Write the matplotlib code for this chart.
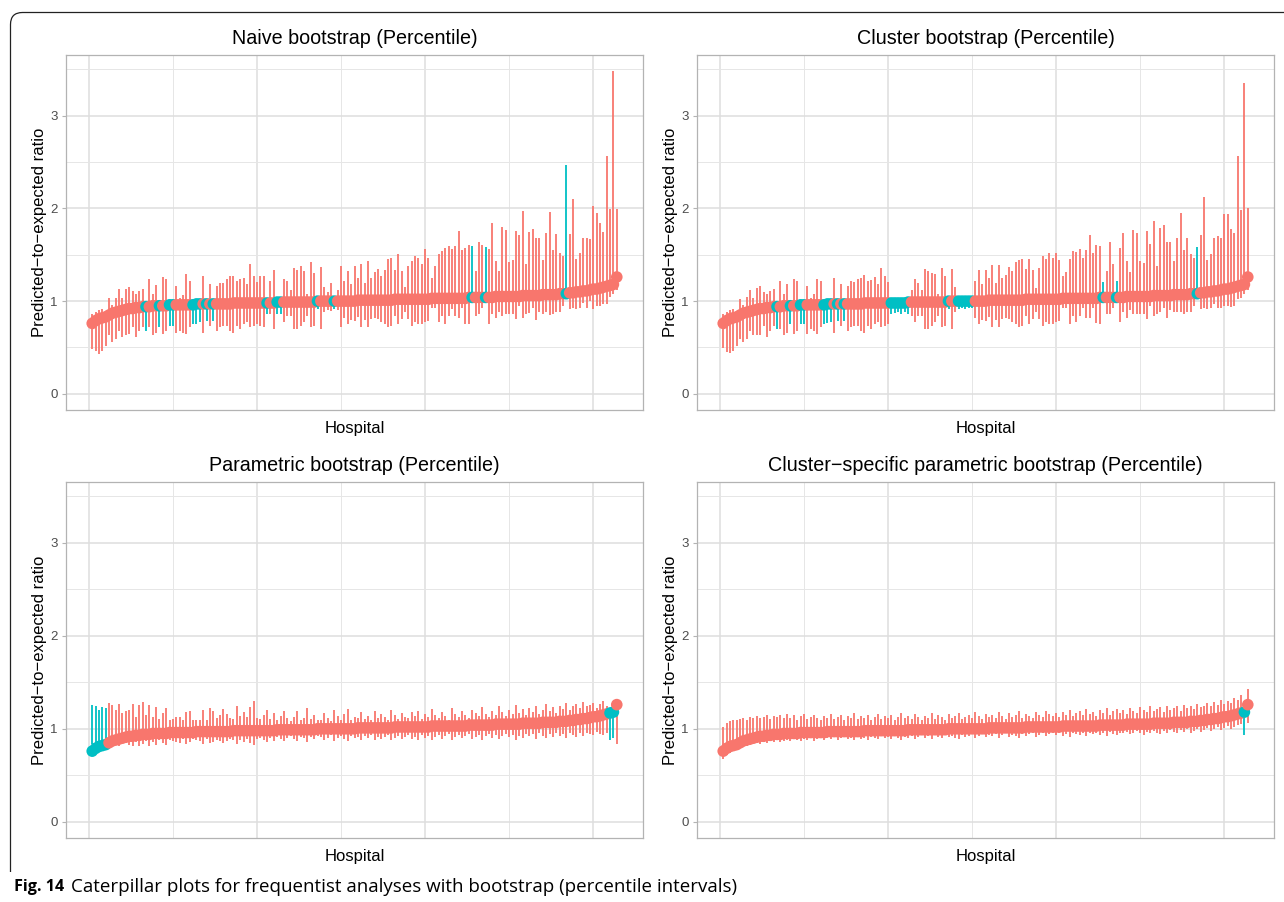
import matplotlib
matplotlib.use("Agg")
import matplotlib.pyplot as plt
from matplotlib.path import Path
from matplotlib.patches import PathPatch

# ---------------- data ----------------
estimate = [
    0.76, 0.79, 0.81, 0.82, 0.83, 0.85, 0.87, 0.88, 0.89, 0.90,
    0.91, 0.92, 0.92, 0.93, 0.93, 0.94, 0.94, 0.94, 0.95, 0.95,
    0.95, 0.95, 0.95, 0.96, 0.96, 0.96, 0.96, 0.96, 0.96, 0.96,
    0.96, 0.97, 0.97, 0.97, 0.97, 0.97, 0.97, 0.97, 0.97, 0.97,
    0.97, 0.97, 0.98, 0.98, 0.98, 0.98, 0.98, 0.98, 0.98, 0.98,
    0.98, 0.98, 0.98, 0.98, 0.98, 0.99, 0.99, 0.99, 0.99, 0.99,
    0.99, 0.99, 0.99, 0.99, 0.99, 0.99, 0.99, 1.00, 1.00, 1.00,
    1.00, 1.00, 1.00, 1.00, 1.00, 1.00, 1.00, 1.00, 1.00, 1.01,
    1.01, 1.01, 1.01, 1.01, 1.01, 1.01, 1.01, 1.01, 1.01, 1.01,
    1.02, 1.02, 1.02, 1.02, 1.02, 1.02, 1.02, 1.02, 1.02, 1.02,
    1.02, 1.03, 1.03, 1.03, 1.03, 1.03, 1.03, 1.03, 1.03, 1.03,
    1.03, 1.03, 1.04, 1.04, 1.04, 1.04, 1.04, 1.04, 1.04, 1.04,
    1.05, 1.05, 1.05, 1.05, 1.05, 1.05, 1.05, 1.05, 1.06, 1.06,
    1.06, 1.06, 1.06, 1.06, 1.07, 1.07, 1.07, 1.07, 1.07, 1.08,
    1.08, 1.08, 1.09, 1.09, 1.10, 1.10, 1.11, 1.11, 1.12, 1.13,
    1.13, 1.14, 1.15, 1.16, 1.17, 1.18, 1.26]

naive_lower = [
    0.48, 0.46, 0.43, 0.46, 0.52, 0.63, 0.56, 0.59, 0.68, 0.61,
    0.63, 0.65, 0.72, 0.61, 0.68, 0.72, 0.68, 0.72, 0.63, 0.66,
    0.72, 0.65, 0.68, 0.73, 0.73, 0.66, 0.68, 0.66, 0.65, 0.72,
    0.75, 0.75, 0.77, 0.66, 0.79, 0.73, 0.79, 0.68, 0.72, 0.73,
    0.73, 0.68, 0.66, 0.73, 0.70, 0.75, 0.77, 0.72, 0.73, 0.75,
    0.73, 0.72, 0.86, 0.86, 0.70, 0.86, 0.86, 0.77, 0.84, 0.84,
    0.70, 0.70, 0.73, 0.77, 0.84, 0.72, 0.73, 0.91, 0.70, 0.88,
    0.90, 0.89, 0.92, 0.90, 0.72, 0.82, 0.75, 0.80, 0.79, 0.83,
    0.72, 0.80, 0.72, 0.81, 0.82, 0.81, 0.77, 0.75, 0.72, 0.73,
    0.84, 0.75, 0.81, 0.88, 0.81, 0.73, 0.77, 0.75, 0.75, 0.77,
    0.79, 0.93, 0.93, 0.77, 0.84, 0.75, 0.84, 0.91, 0.84, 0.82,
    0.93, 0.75, 0.75, 0.98, 0.84, 0.86, 0.93, 0.98, 0.75, 0.86,
    0.82, 0.88, 0.84, 0.86, 0.86, 0.86, 0.81, 0.95, 0.82, 0.86,
    0.87, 0.93, 0.80, 0.88, 0.86, 0.88, 0.85, 0.86, 0.88, 0.88,
    0.95, 1.03, 0.91, 0.93, 0.91, 0.93, 0.98, 0.93, 1.00, 0.92,
    0.95, 0.95, 0.97, 0.97, 1.04, 1.08, 1.12]
naive_upper = [
    0.86, 0.88, 0.90, 0.92, 0.88, 1.03, 0.96, 1.03, 1.13, 1.03,
    1.13, 1.15, 1.11, 1.08, 1.11, 1.13, 0.93, 1.24, 1.08, 1.17,
    0.94, 1.26, 1.24, 0.95, 0.95, 1.16, 1.03, 1.07, 1.29, 1.22,
    0.95, 0.96, 0.96, 1.27, 0.96, 1.19, 0.96, 1.16, 1.20, 1.20,
    1.24, 1.27, 1.27, 1.22, 1.24, 1.25, 1.18, 1.40, 1.27, 1.21,
    1.27, 1.27, 0.97, 1.22, 1.34, 0.97, 0.98, 1.24, 1.22, 1.12,
    1.36, 1.34, 1.38, 1.32, 1.08, 1.42, 1.30, 0.98, 1.37, 1.15,
    1.10, 1.20, 0.99, 1.12, 1.38, 1.22, 1.33, 1.18, 1.38, 1.25,
    1.40, 1.20, 1.43, 1.25, 1.31, 1.35, 1.27, 1.34, 1.45, 1.46,
    1.34, 1.51, 1.33, 1.15, 1.38, 1.43, 1.49, 1.47, 1.40, 1.56,
    1.46, 1.25, 1.38, 1.51, 1.54, 1.57, 1.59, 1.56, 1.59, 1.76,
    1.55, 1.57, 1.61, 1.59, 1.32, 1.64, 1.60, 1.58, 1.56, 1.84,
    1.43, 1.33, 1.80, 1.77, 1.42, 1.44, 1.76, 1.71, 1.97, 1.40,
    1.75, 1.78, 1.68, 1.68, 1.44, 1.73, 1.96, 1.55, 1.72, 1.52,
    1.49, 2.47, 1.72, 2.10, 1.45, 1.52, 1.68, 1.68, 1.67, 2.03,
    1.95, 1.84, 1.75, 2.56, 1.99, 3.48, 1.99]
naive_teal = [17, 21, 24, 25, 31, 32, 33, 35, 37, 53, 56, 57, 68, 73,
              114, 118, 142]

cluster_lower = [
    0.49, 0.45, 0.44, 0.46, 0.52, 0.59, 0.56, 0.59, 0.68, 0.63,
    0.63, 0.63, 0.73, 0.61, 0.68, 0.73, 0.70, 0.70, 0.63, 0.66,
    0.75, 0.65, 0.68, 0.75, 0.75, 0.65, 0.70, 0.68, 0.65, 0.72,
    0.75, 0.76, 0.77, 0.66, 0.79, 0.73, 0.79, 0.68, 0.72, 0.73,
    0.73, 0.68, 0.66, 0.73, 0.70, 0.75, 0.77, 0.72, 0.73, 0.75,
    0.86, 0.87, 0.88, 0.86, 0.88, 0.86, 0.84, 0.77, 0.84, 0.84,
    0.70, 0.70, 0.73, 0.77, 0.84, 0.72, 0.73, 0.91, 0.70, 0.88,
    0.92, 0.93, 0.92, 0.93, 0.93, 0.82, 0.75, 0.80, 0.79, 0.83,
    0.72, 0.80, 0.72, 0.81, 0.82, 0.81, 0.77, 0.75, 0.72, 0.73,
    0.84, 0.75, 0.81, 0.88, 0.81, 0.73, 0.77, 0.75, 0.75, 0.77,
    0.79, 0.93, 0.93, 0.75, 0.84, 0.77, 0.84, 0.93, 0.82, 0.82,
    0.93, 0.76, 0.75, 0.98, 0.86, 0.86, 0.93, 0.98, 0.77, 0.88,
    0.82, 0.90, 0.86, 0.86, 0.86, 0.86, 0.81, 0.95, 0.84, 0.86,
    0.88, 0.93, 0.82, 0.90, 0.88, 0.88, 0.88, 0.86, 0.88, 0.88,
    0.95, 1.03, 0.92, 0.93, 0.91, 0.93, 0.97, 0.93, 0.93, 0.95,
    0.95, 0.94, 0.95, 1.02, 1.03, 1.08, 1.12]
cluster_upper = [
    0.86, 0.88, 0.90, 0.92, 0.88, 1.02, 0.96, 1.04, 1.12, 1.03,
    1.14, 1.16, 1.10, 1.08, 1.11, 1.13, 0.93, 1.22, 1.08, 1.18,
    0.94, 1.24, 1.22, 0.95, 0.95, 1.16, 1.03, 1.08, 1.24, 1.22,
    0.95, 0.96, 0.96, 1.25, 0.96, 1.19, 0.96, 1.16, 1.22, 1.21,
    1.24, 1.25, 1.28, 1.22, 1.23, 1.26, 1.18, 1.36, 1.27, 1.21,
    0.97, 0.97, 0.97, 0.97, 0.97, 0.98, 1.12, 1.24, 1.20, 1.12,
    1.35, 1.33, 1.30, 1.29, 1.08, 1.36, 1.27, 0.98, 1.35, 1.15,
    0.99, 0.99, 0.99, 0.99, 0.99, 1.22, 1.34, 1.18, 1.34, 1.25,
    1.39, 1.20, 1.39, 1.25, 1.28, 1.37, 1.32, 1.42, 1.44, 1.45,
    1.35, 1.45, 1.34, 1.14, 1.36, 1.49, 1.45, 1.52, 1.46, 1.52,
    1.44, 1.27, 1.31, 1.45, 1.54, 1.53, 1.56, 1.46, 1.55, 1.71,
    1.52, 1.61, 1.59, 1.21, 1.33, 1.64, 1.40, 1.22, 1.57, 1.73,
    1.43, 1.31, 1.77, 1.74, 1.43, 1.41, 1.76, 1.62, 1.86, 1.38,
    1.79, 1.82, 1.64, 1.64, 1.43, 1.68, 1.95, 1.55, 1.68, 1.51,
    1.46, 1.58, 1.71, 2.12, 1.44, 1.51, 1.68, 1.70, 1.68, 1.94,
    1.94, 1.78, 1.74, 2.56, 1.98, 3.35, 2.00]
cluster_teal = [17, 21, 24, 25, 31, 32, 33, 35, 37, 51, 52, 53, 54, 55, 56,
                68, 71, 72, 73, 74, 75, 114, 118, 142]

param_lower = [
    0.84, 0.85, 0.86, 0.87, 0.88, 0.80, 0.82, 0.83, 0.81, 0.84,
    0.85, 0.83, 0.82, 0.86, 0.81, 0.84, 0.87, 0.82, 0.86, 0.83,
    0.88, 0.85, 0.83, 0.88, 0.87, 0.86, 0.85, 0.89, 0.84, 0.86,
    0.89, 0.88, 0.87, 0.84, 0.89, 0.85, 0.86, 0.88, 0.87, 0.85,
    0.87, 0.89, 0.88, 0.84, 0.88, 0.86, 0.89, 0.85, 0.83, 0.89,
    0.90, 0.88, 0.86, 0.90, 0.87, 0.91, 0.89, 0.87, 0.90, 0.92,
    0.89, 0.87, 0.91, 0.90, 0.86, 0.91, 0.89, 0.92, 0.91, 0.88,
    0.90, 0.93, 0.87, 0.90, 0.92, 0.89, 0.87, 0.92, 0.90, 0.91,
    0.88, 0.92, 0.90, 0.93, 0.88, 0.91, 0.89, 0.91, 0.93, 0.88,
    0.90, 0.92, 0.89, 0.91, 0.93, 0.89, 0.91, 0.88, 0.93, 0.90,
    0.92, 0.88, 0.91, 0.93, 0.89, 0.92, 0.94, 0.88, 0.91, 0.93,
    0.90, 0.92, 0.94, 0.89, 0.91, 0.93, 0.88, 0.92, 0.94, 0.90,
    0.93, 0.89, 0.92, 0.94, 0.91, 0.93, 0.88, 0.92, 0.90, 0.94,
    0.92, 0.94, 0.89, 0.95, 0.92, 0.90, 0.94, 0.91, 0.95, 0.92,
    0.94, 0.90, 0.95, 0.93, 0.91, 0.96, 0.92, 0.95, 0.94, 0.93,
    0.97, 0.94, 0.93, 0.96, 0.88, 0.90, 0.84]
param_upper = [
    1.26, 1.25, 1.20, 1.23, 1.22, 1.28, 1.26, 1.20, 1.27, 1.17,
    1.19, 1.20, 1.27, 1.13, 1.26, 1.29, 1.15, 1.26, 1.13, 1.23,
    1.11, 1.17, 1.22, 1.10, 1.11, 1.13, 1.13, 1.10, 1.18, 1.19,
    1.10, 1.09, 1.10, 1.20, 1.09, 1.22, 1.19, 1.12, 1.15, 1.21,
    1.16, 1.12, 1.11, 1.24, 1.14, 1.18, 1.13, 1.23, 1.30, 1.12,
    1.11, 1.15, 1.20, 1.11, 1.17, 1.10, 1.14, 1.19, 1.12, 1.08,
    1.13, 1.19, 1.10, 1.12, 1.22, 1.11, 1.15, 1.10, 1.09, 1.17,
    1.12, 1.08, 1.20, 1.14, 1.10, 1.16, 1.21, 1.09, 1.13, 1.12,
    1.18, 1.11, 1.14, 1.10, 1.19, 1.12, 1.16, 1.13, 1.09, 1.20,
    1.15, 1.11, 1.17, 1.13, 1.12, 1.18, 1.14, 1.19, 1.11, 1.16,
    1.13, 1.21, 1.15, 1.12, 1.18, 1.14, 1.10, 1.22, 1.16, 1.13,
    1.19, 1.15, 1.12, 1.20, 1.17, 1.14, 1.23, 1.16, 1.13, 1.19,
    1.15, 1.24, 1.18, 1.14, 1.20, 1.16, 1.26, 1.17, 1.21, 1.15,
    1.22, 1.18, 1.25, 1.16, 1.20, 1.27, 1.19, 1.23, 1.17, 1.25,
    1.21, 1.28, 1.20, 1.24, 1.27, 1.22, 1.29, 1.24, 1.26, 1.28,
    1.22, 1.27, 1.30, 1.25, 1.16, 1.16, 1.26]
param_teal = [1, 2, 3, 4, 5, 155, 156]

cspec_lower = [
    0.68, 0.72, 0.74, 0.76, 0.78, 0.80, 0.82, 0.81, 0.83, 0.84,
    0.85, 0.84, 0.86, 0.85, 0.87, 0.86, 0.88, 0.86, 0.87, 0.88,
    0.87, 0.89, 0.88, 0.87, 0.89, 0.88, 0.90, 0.87, 0.89, 0.90,
    0.88, 0.90, 0.89, 0.91, 0.88, 0.90, 0.91, 0.89, 0.90, 0.88,
    0.91, 0.89, 0.90, 0.88, 0.91, 0.90, 0.89, 0.92, 0.90, 0.91,
    0.89, 0.92, 0.90, 0.88, 0.91, 0.90, 0.92, 0.89, 0.91, 0.93,
    0.90, 0.92, 0.89, 0.93, 0.91, 0.90, 0.93, 0.91, 0.92, 0.90,
    0.89, 0.93, 0.91, 0.92, 0.94, 0.90, 0.92, 0.94, 0.91, 0.93,
    0.92, 0.94, 0.90, 0.93, 0.95, 0.91, 0.93, 0.92, 0.90, 0.94,
    0.92, 0.94, 0.95, 0.91, 0.93, 0.95, 0.92, 0.94, 0.96, 0.93,
    0.95, 0.92, 0.94, 0.91, 0.96, 0.94, 0.93, 0.95, 0.92, 0.96,
    0.94, 0.96, 0.93, 0.95, 0.92, 0.97, 0.94, 0.93, 0.96, 0.95,
    0.97, 0.94, 0.96, 0.98, 0.95, 0.93, 0.97, 0.95, 0.98, 0.96,
    0.94, 0.98, 0.96, 0.99, 0.97, 0.95, 0.99, 0.97, 1.00, 0.96,
    0.98, 1.00, 0.97, 0.99, 1.01, 0.98, 1.00, 1.02, 0.99, 1.01,
    1.03, 1.00, 1.02, 1.04, 1.05, 0.93, 1.06]
cspec_upper = [
    1.02, 1.06, 1.08, 1.09, 1.10, 1.11, 1.12, 1.10, 1.13, 1.12,
    1.14, 1.12, 1.13, 1.15, 1.11, 1.14, 1.13, 1.15, 1.12, 1.16,
    1.12, 1.15, 1.10, 1.14, 1.16, 1.11, 1.13, 1.15, 1.12, 1.10,
    1.14, 1.12, 1.16, 1.11, 1.13, 1.15, 1.09, 1.14, 1.12, 1.17,
    1.11, 1.14, 1.12, 1.15, 1.10, 1.13, 1.16, 1.11, 1.14, 1.12,
    1.15, 1.10, 1.13, 1.17, 1.12, 1.14, 1.11, 1.16, 1.13, 1.10,
    1.14, 1.12, 1.17, 1.11, 1.15, 1.13, 1.10, 1.16, 1.12, 1.14,
    1.17, 1.11, 1.13, 1.15, 1.12, 1.18, 1.14, 1.11, 1.16, 1.13,
    1.15, 1.12, 1.18, 1.14, 1.11, 1.17, 1.13, 1.15, 1.19, 1.12,
    1.16, 1.14, 1.12, 1.18, 1.15, 1.13, 1.19, 1.16, 1.14, 1.17,
    1.13, 1.18, 1.15, 1.20, 1.14, 1.17, 1.19, 1.15, 1.21, 1.16,
    1.18, 1.14, 1.20, 1.17, 1.22, 1.15, 1.19, 1.21, 1.17, 1.20,
    1.16, 1.22, 1.19, 1.17, 1.23, 1.20, 1.18, 1.24, 1.19, 1.21,
    1.23, 1.18, 1.25, 1.20, 1.22, 1.24, 1.19, 1.26, 1.22, 1.25,
    1.21, 1.27, 1.23, 1.25, 1.28, 1.24, 1.29, 1.26, 1.31, 1.27,
    1.30, 1.28, 1.33, 1.31, 1.36, 1.15, 1.43]
cspec_teal = [156]

titles = ["Naive bootstrap (Percentile)",
          "Cluster bootstrap (Percentile)",
          "Parametric bootstrap (Percentile)",
          "Cluster\u2212specific parametric bootstrap (Percentile)"]
y_label = "Predicted\u2212to\u2212expected ratio"
x_label = "Hospital"
caption_bold = "Fig. 14"
caption_text = "Caterpillar plots for frequentist analyses with bootstrap (percentile intervals)"

# ---------------- styling ----------------
SALMON = "#F8766D"
TEAL = "#00BFC4"
W, H = 1284, 902
plt.rcParams["font.family"] = ["Liberation Sans", "DejaVu Sans"]

fig = plt.figure(figsize=(W / 100, H / 100), dpi=100)


def fx(px):
    return px / W


def fy(py):
    return 1 - py / H


ranks = list(range(1, len(estimate) + 1))
n = len(ranks)
ymax = max(max(naive_upper), max(cluster_upper), max(param_upper), max(cspec_upper))
ylim = (-0.05 * ymax, 1.05 * ymax)
xlim = (1 - 0.05 * (n - 1), n + 0.05 * (n - 1))

panel_boxes = [(66, 55, 643, 410), (697, 55, 1274, 410),
               (66, 482, 643, 838), (697, 482, 1274, 838)]
series = [(naive_lower, naive_upper, naive_teal),
          (cluster_lower, cluster_upper, cluster_teal),
          (param_lower, param_upper, param_teal),
          (cspec_lower, cspec_upper, cspec_teal)]

for title, (lo, up, teal), (l, t, r, b) in zip(titles, series, panel_boxes):
    ax = fig.add_axes([fx(l), fy(b), (r - l) / W, (b - t) / H])
    ax.set_xlim(xlim)
    ax.set_ylim(ylim)
    ax.set_xticks([0, 50, 100, 150])
    ax.set_xticks([25, 75, 125], minor=True)
    ax.set_yticks([0, 1, 2, 3])
    ax.set_yticks([0.5, 1.5, 2.5, 3.5], minor=True)
    ax.grid(which="major", color="#DEDEDE", lw=1.1)
    ax.grid(which="minor", color="#E6E6E6", lw=0.7)
    ax.set_axisbelow(True)
    ax.tick_params(axis="x", which="both", length=0, labelbottom=False)
    ax.tick_params(axis="y", which="minor", length=0)
    ax.tick_params(axis="y", which="major", length=3, width=0.8,
                   color="#B3B3B3", labelcolor="#4D4D4D", labelsize=9.5, pad=3)
    for s in ax.spines.values():
        s.set_color("#B3B3B3")
        s.set_linewidth(0.9)
    teal_set = set(teal)
    cols = [TEAL if rk in teal_set else SALMON for rk in ranks]
    ax.vlines(ranks, lo, up, colors=cols, lw=1.3, zorder=2)
    ax.scatter(ranks, estimate, c=cols, s=70, linewidths=0, zorder=3)
    ax.set_title(title, fontsize=14.2, pad=8)
    ax.set_ylabel(y_label, fontsize=12, labelpad=2)
    ax.set_xlabel(x_label, fontsize=12, labelpad=8)

# frame around figure (rounded top-left corner)
x0, y0, rad = 10.5, 12.5, 12
verts = [(fx(x0), fy(872)), (fx(x0), fy(y0 + rad)), (fx(x0), fy(y0)),
         (fx(x0 + rad), fy(y0)), (fx(W + 5), fy(y0))]
codes = [Path.MOVETO, Path.LINETO, Path.CURVE3, Path.CURVE3, Path.LINETO]
fig.add_artist(PathPatch(Path(verts, codes), transform=fig.transFigure,
                         fill=False, edgecolor="#222222", lw=0.9))

# caption
cap_font = ["Open Sans", "DejaVu Sans"]
t1 = fig.text(fx(14), fy(887), caption_bold, fontsize=11.6, fontweight="bold",
              family=cap_font, va="center", ha="left")
fig.canvas.draw()
bb = t1.get_window_extent()
fig.text((bb.x1 + 7) / W, fy(887), caption_text, fontsize=13.5,
         family=cap_font, va="center", ha="left")

fig.savefig("out.png", dpi=100)
